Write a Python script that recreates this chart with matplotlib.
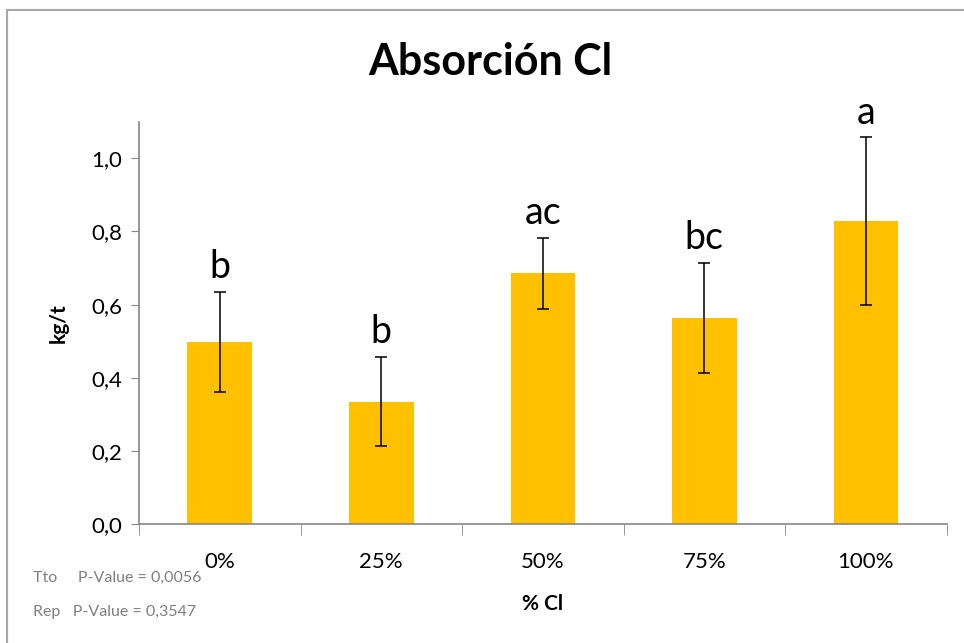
import matplotlib.pyplot as plt
from matplotlib.patches import Rectangle
from matplotlib.ticker import FuncFormatter

# Absorción de Cl por tratamiento
categories = ['0%', '25%', '50%', '75%', '100%']
means = [0.497, 0.335, 0.686, 0.563, 0.828]
errors = [0.137, 0.122, 0.097, 0.151, 0.229]
letters = ['b', 'b', 'ac', 'bc', 'a']
pvalue_lines = ['Tto     P-Value = 0,0056', 'Rep   P-Value = 0,3547']

plt.rcParams['font.family'] = ['Lato', 'DejaVu Sans']

fig = plt.figure(figsize=(9.64, 6.43), dpi=100)
ax = fig.add_axes([0.1442, 0.185, 0.8378, 0.6257])

# light frame around the chart area
fig.patches.append(Rectangle((7 / 964, -0.1), 1.2, 1 - 10 / 643 + 0.1,
                             transform=fig.transFigure, fill=False,
                             edgecolor='#a6a6a6', linewidth=1.5))

x = range(len(categories))
ax.bar(x, means, width=0.4, color='#FFC000', zorder=2)
ax.errorbar(x, means, yerr=errors, fmt='none', ecolor='black',
            elinewidth=1.1, capsize=4.5, capthick=1.1, zorder=3)

for xi, m, e, lab in zip(x, means, errors, letters):
    ax.annotate(lab, (xi, m + e), xytext=(0, 5), textcoords='offset points',
                ha='center', va='bottom', fontsize=27)

ax.set_xlim(-0.5, 4.5)
ax.set_ylim(0, 1.1)
ax.set_yticks([0, 0.2, 0.4, 0.6, 0.8, 1.0])
ax.yaxis.set_major_formatter(FuncFormatter(lambda v, p: f'{v:.1f}'.replace('.', ',')))
ax.set_xticks(list(x))
ax.set_xticklabels(categories)
ax.set_xticks([i - 0.5 for i in range(len(categories) + 1)], minor=True)
ax.tick_params(axis='x', which='major', length=0, pad=20, labelsize=16)
ax.tick_params(axis='x', which='minor', length=8, color='#868686', direction='out')
ax.tick_params(axis='y', length=6, color='#868686', labelsize=16, pad=6)

for side in ['top', 'right']:
    ax.spines[side].set_visible(False)
for side in ['left', 'bottom']:
    ax.spines[side].set_color('#868686')
    ax.spines[side].set_linewidth(1.2)

fig.text(490 / 964, 1 - 62 / 643, 'Absorción Cl', fontsize=31, fontweight='bold',
         ha='center', va='center')
ax.set_ylabel('kg/t', fontsize=15, fontweight='bold', labelpad=16)
ax.set_xlabel('% Cl', fontsize=15, fontweight='bold', labelpad=16)

fig.text(33 / 964, 1 - 578 / 643, pvalue_lines[0], fontsize=11.5, color='#7f7f7f',
         va='center', ha='left')
fig.text(33 / 964, 1 - 612 / 643, pvalue_lines[1], fontsize=11.5, color='#7f7f7f',
         va='center', ha='left')

fig.savefig('out.png', dpi=100, facecolor='white')
